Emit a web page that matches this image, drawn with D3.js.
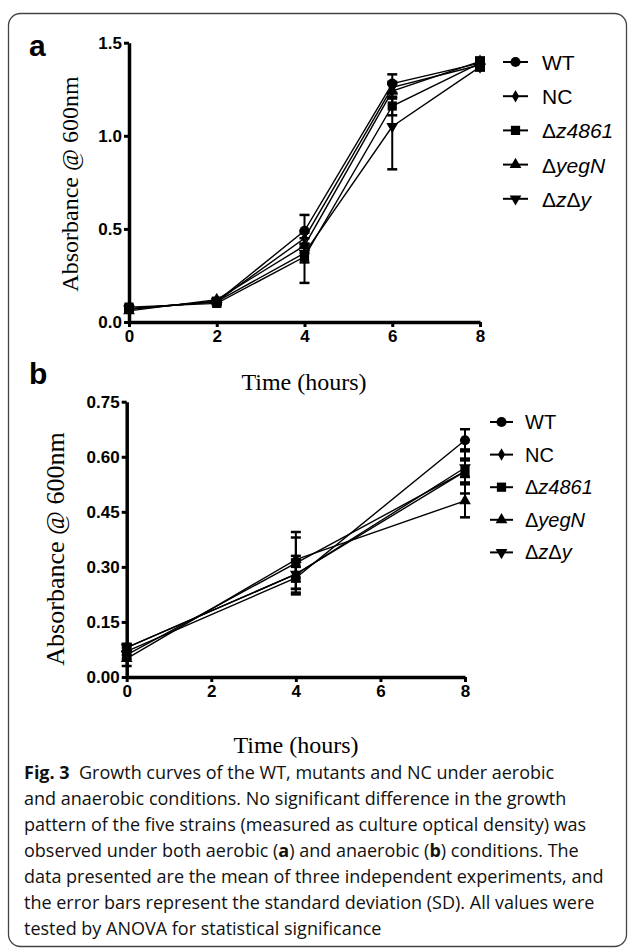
<!DOCTYPE html>
<html>
<head>
<meta charset="utf-8">
<script src="https://cdnjs.cloudflare.com/ajax/libs/d3/7.8.5/d3.min.js"></script>
<style>
  body { margin: 0; background: #fff; }
  svg { display: block; }
</style>
</head>
<body>
<svg id="fig" width="629" height="949"></svg>
<script>
// --- data ---
const strains = ["WT", "NC", "Δz4861", "ΔyegN", "ΔzΔy"];
// legend label pieces: [text, italic]
const strainLabels = [
  [["WT", false]],
  [["NC", false]],
  [["Δ", false], ["z4861", true]],
  [["Δ", false], ["yegN", true]],
  [["Δ", false], ["z", true], ["Δ", false], ["y", true]]
];

// panel a: aerobic
const timesA = [0, 2, 4, 6, 8];
const wtA    = [0.07, 0.11, 0.49, 1.28, 1.39];
const ncA    = [0.07, 0.11, 0.45, 1.26, 1.38];
const z4861A = [0.08, 0.10, 0.35, 1.16, 1.39];
const yegNA  = [0.06, 0.12, 0.41, 1.24, 1.40];
const zyA    = [0.07, 0.11, 0.37, 1.05, 1.37];
const wtSdA    = [0.01, 0.01, 0.085, 0.05, 0.02];
const ncSdA    = [0.01, 0.01, 0.03, 0.03, 0.02];
const z4861SdA = [0.01, 0.01, 0.14, 0.05, 0.03];
const yegNSdA  = [0.01, 0.01, 0.04, 0.04, 0.02];
const zySdA    = [0.01, 0.01, 0.05, 0.23, 0.02];
const yTicksA = [0, 0.5, 1.0, 1.5];

// panel b: anaerobic
const timesB = [0, 4, 8];
const wtB    = [0.07, 0.27, 0.645];
const ncB    = [0.08, 0.28, 0.56];
const z4861B = [0.06, 0.31, 0.56];
const yegNB  = [0.05, 0.32, 0.48];
const zyB    = [0.08, 0.28, 0.57];
const wtSdB    = [0.01, 0.03, 0.03];
const ncSdB    = [0.01, 0.04, 0.06];
const z4861SdB = [0.01, 0.085, 0.03];
const yegNSdB  = [0.02, 0.06, 0.045];
const zySdB    = [0.01, 0.05, 0.025];
const yTicksB = [0, 0.15, 0.30, 0.45, 0.60, 0.75];

const xTicks = [0, 2, 4, 6, 8];

const captionLines = [
  [["Fig. 3", true], ["  Growth curves of the WT, mutants and NC under aerobic", false]],
  [["and anaerobic conditions. No significant difference in the growth", false]],
  [["pattern of the five strains (measured as culture optical density) was", false]],
  [["observed under both aerobic (", false], ["a", true], [") and anaerobic (", false], ["b", true], [") conditions. The", false]],
  [["data presented are the mean of three independent experiments, and", false]],
  [["the error bars represent the standard deviation (SD). All values were", false]],
  [["tested by ANOVA for statistical significance", false]]
];

// --- drawing ---
const svg = d3.select("#fig");
const TICKFONT = "'Liberation Sans Narrow', 'Liberation Sans', Arial, sans-serif";
const SERIF = "'Liberation Serif', 'Times New Roman', serif";
const SANS = "'Liberation Sans', Arial, sans-serif";

svg.append("rect")
  .attr("x", 8.5).attr("y", 13.5)
  .attr("width", 618).attr("height", 933)
  .attr("rx", 12)
  .attr("fill", "none").attr("stroke", "#444").attr("stroke-width", 1.3);

const shapes = [
  d3.symbol().type(d3.symbolCircle).size(80),
  d3.symbol().type(d3.symbolDiamond).size(45),
  d3.symbol().type(d3.symbolSquare).size(85),
  d3.symbol().type(d3.symbolTriangle).size(60),
  d3.symbol().type(d3.symbolTriangle).size(60)
];
const rotations = [0, 0, 0, 0, 180];

function drawPanel(p) {
  const g = svg.append("g");
  const x = d3.scaleLinear().domain([0, 8]).range(p.xRange);
  const y = d3.scaleLinear().domain(p.yDomain).range(p.yRange);

  // y axis
  const ya = g.append("g")
    .attr("transform", `translate(${p.xRange[0]},0)`)
    .call(d3.axisLeft(y).tickValues(p.yTicks).tickFormat(d3.format(p.yFmt))
      .tickSize(5).tickSizeOuter(0).tickPadding(2));
  // x axis
  const xa = g.append("g")
    .attr("transform", `translate(0,${p.yRange[0]})`)
    .call(d3.axisBottom(x).tickValues(xTicks).tickFormat(d3.format("d"))
      .tickSize(5).tickSizeOuter(0).tickPadding(3));
  [ya, xa].forEach(a => {
    a.select(".domain").attr("stroke-width", 3.5).attr("stroke", "#000");
    a.selectAll(".tick line").attr("stroke-width", 3).attr("stroke", "#000");
    a.selectAll(".tick text")
      .attr("font-family", TICKFONT).attr("font-weight", "bold")
      .attr("font-size", 17).attr("fill", "#000");
  });

  // lines
  const line = d3.line().x((d, i) => x(p.times[i])).y(d => y(d));
  p.means.forEach(m => {
    g.append("path").attr("d", line(m))
      .attr("fill", "none").attr("stroke", "#000").attr("stroke-width", 1.4);
  });

  // error bars
  p.means.forEach((m, s) => {
    m.forEach((v, i) => {
      const sd = p.sds[s][i];
      const cx = x(p.times[i]);
      const eg = g.append("g").attr("stroke", "#000");
      eg.append("line").attr("x1", cx).attr("x2", cx)
        .attr("y1", y(v - sd)).attr("y2", y(v + sd)).attr("stroke-width", 2);
      [v - sd, v + sd].forEach(e => {
        eg.append("line").attr("x1", cx - 5).attr("x2", cx + 5)
          .attr("y1", y(e)).attr("y2", y(e)).attr("stroke-width", 2.5);
      });
    });
  });

  // markers
  p.means.forEach((m, s) => {
    g.selectAll(null).data(m).enter().append("path")
      .attr("d", shapes[s])
      .attr("transform", (d, i) => `translate(${x(p.times[i])},${y(d)}) rotate(${rotations[s]})`)
      .attr("fill", "#000");
  });

  // titles
  g.append("text")
    .attr("transform", `translate(${p.yTitle[0]},${p.yTitle[1]}) rotate(-90)`)
    .attr("text-anchor", "middle").attr("dominant-baseline", "central")
    .attr("font-family", SERIF).attr("font-size", p.yTitleSize)
    .text("Absorbance @ 600nm");
  g.append("text")
    .attr("x", p.xTitle[0]).attr("y", p.xTitle[1])
    .attr("text-anchor", "middle")
    .attr("font-family", SERIF).attr("font-size", 24)
    .text("Time (hours)");

  // panel letter
  g.append("text")
    .attr("x", p.letter[0]).attr("y", p.letter[1])
    .attr("font-family", SANS).attr("font-weight", "bold").attr("font-size", 30)
    .text(p.name);

  // legend
  strains.forEach((s, k) => {
    const ly = p.legend.y0 + k * p.legend.dy;
    const lg = g.append("g");
    lg.append("line").attr("x1", p.legend.x0).attr("x2", p.legend.x1)
      .attr("y1", ly).attr("y2", ly).attr("stroke", "#000").attr("stroke-width", 2);
    lg.append("path").attr("d", shapes[k])
      .attr("transform", `translate(${(p.legend.x0 + p.legend.x1) / 2},${ly}) rotate(${rotations[k]})`)
      .attr("fill", "#000");
    const t = lg.append("text")
      .attr("x", p.legend.tx).attr("y", ly)
      .attr("dominant-baseline", "central")
      .attr("font-family", SANS).attr("font-size", p.legend.size);
    strainLabels[k].forEach(([txt, it]) => {
      t.append("tspan").attr("font-style", it ? "italic" : "normal").text(txt);
    });
  });
}

drawPanel({
  name: "a",
  times: timesA,
  means: [wtA, ncA, z4861A, yegNA, zyA],
  sds: [wtSdA, ncSdA, z4861SdA, yegNSdA, zySdA],
  xRange: [129, 480],
  yDomain: [0, 1.5], yRange: [322, 42.7],
  yTicks: yTicksA, yFmt: ".1f",
  yTitle: [70, 184], yTitleSize: 24,
  xTitle: [304, 390],
  letter: [29, 56],
  legend: { x0: 503, x1: 528, tx: 542, y0: 62, dy: 34.2, size: 21 }
});

drawPanel({
  name: "b",
  times: timesB,
  means: [wtB, ncB, z4861B, yegNB, zyB],
  sds: [wtSdB, ncSdB, z4861SdB, yegNSdB, zySdB],
  xRange: [126.7, 465],
  yDomain: [0, 0.75], yRange: [677, 401.7],
  yTicks: yTicksB, yFmt: ".2f",
  yTitle: [55, 549], yTitleSize: 26,
  xTitle: [296, 753],
  letter: [29, 384],
  legend: { x0: 490, x1: 513, tx: 525, y0: 422, dy: 32.6, size: 20 }
});

// caption
const cap = svg.append("g");
captionLines.forEach((ln, i) => {
  const t = cap.append("text")
    .attr("x", 24).attr("y", 779 + i * 26)
    .attr("font-family", "'Open Sans', 'Noto Sans', sans-serif")
    .attr("font-size", 18).attr("fill", "#111")
    .attr("xml:space", "preserve");
  ln.forEach(([txt, b]) => {
    t.append("tspan").attr("font-weight", b ? "bold" : "normal").text(txt);
  });
});
</script>
</body>
</html>
